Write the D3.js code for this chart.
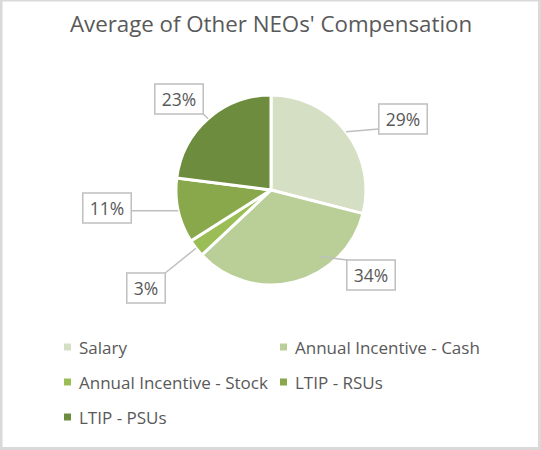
<!DOCTYPE html>
<html>
<head>
<meta charset="utf-8">
<script src="https://cdn.jsdelivr.net/npm/d3@7"></script>
<style>
  body { margin: 0; background: #fff; }
  text { font-family: "Open Sans", sans-serif; fill: #595959; }
</style>
</head>
<body>
<div id="chart"></div>
<script>
const width = 541;
const height = 450;

// chart data
const categories = ["Salary", "Annual Incentive - Cash", "Annual Incentive - Stock", "LTIP - RSUs", "LTIP - PSUs"];
const shares = [29, 34, 3, 11, 23];
const colors = ["#d4dfc3", "#b9cf97", "#9bbd56", "#88a84b", "#6d8c3d"];

// where Excel dropped each data label, relative to the pie centre
const labelLayout = [
    { dx: 132, dy: -71, lead: 0.5, lr: 1.0 },
    { dx: 100, dy: 85, lead: 0.32, lr: 0.87 },
    { dx: -125, dy: 98, lead: 0.5, lr: 1.0 },
    { dx: -164, dy: 18, lead: 0.5, lr: 1.0 },
    { dx: -92, dy: -91, lead: 0.5, lr: 1.0 }
];

const cx = 271, cy = 190, radius = 95;

var svg = d3.select("#chart")
    .append("svg")
    .attr("width", width)
    .attr("height", height);

// frame
svg.append("rect")
    .attr("x", 0).attr("y", 0)
    .attr("width", width).attr("height", height)
    .attr("fill", "#d9d9d9");
svg.append("rect")
    .attr("x", 2.5).attr("y", 1.5)
    .attr("width", 535.5).attr("height", 445.5)
    .attr("fill", "#fff");

svg.append("text")
    .attr("x", 271)
    .attr("y", 32)
    .attr("text-anchor", "middle")
    .style("font-size", "22.3px")
    .text("Average of Other NEOs' Compensation");

let data = categories.map(function (c, i) {
    return { name: c, value: shares[i], color: colors[i], layout: labelLayout[i] };
});

let pie = d3.pie()
    .value(function (d) { return d.value; })
    .sort(null);

let arc = d3.arc()
    .innerRadius(0)
    .outerRadius(radius);

let arcs = pie(data);

let g = svg.append("g")
    .attr("transform", "translate(" + cx + "," + cy + ")");

g.selectAll("path")
    .data(arcs)
    .enter()
    .append("path")
    .attr("d", arc)
    .attr("fill", function (d) { return d.data.color; })
    .attr("stroke", "#fff")
    .attr("stroke-width", 3)
    .attr("stroke-linejoin", "round");

// data labels with leader lines
let labels = g.selectAll("g.label")
    .data(arcs)
    .enter()
    .append("g")
    .attr("class", "label");

labels.each(function (d) {
    let sel = d3.select(this);
    let L = d.data.layout;
    let txt = sel.append("text")
        .attr("x", L.dx)
        .attr("y", L.dy)
        .attr("text-anchor", "middle")
        .attr("dominant-baseline", "central")
        .style("font-size", "17.5px")
        .text(d.value + "%");
    let tw = txt.node().getComputedTextLength();
    let bw = tw + 14, bh = 30;
    let x0 = L.dx - bw / 2, y0 = L.dy - bh / 2;

    // point on the slice the leader goes to
    let a = d.startAngle + (d.endAngle - d.startAngle) * L.lead;
    let px = Math.sin(a) * radius * L.lr;
    let py = -Math.cos(a) * radius * L.lr;
    // nearest point on the box, kept a little away from the corners
    let inset = 5;
    let bx = Math.max(x0 + inset, Math.min(x0 + bw - inset, px));
    let by = Math.max(y0 + inset, Math.min(y0 + bh - inset, py));
    if (px < x0) bx = x0; else if (px > x0 + bw) bx = x0 + bw;
    if (py < y0) by = y0; else if (py > y0 + bh) by = y0 + bh;

    sel.insert("line", "text")
        .attr("x1", px).attr("y1", py)
        .attr("x2", bx).attr("y2", by)
        .attr("stroke", "#bfbfbf")
        .attr("stroke-width", 1.5);
    sel.insert("rect", "text")
        .attr("x", x0).attr("y", y0)
        .attr("width", bw).attr("height", bh)
        .attr("fill", "#fff")
        .attr("stroke", "#bfbfbf")
        .attr("stroke-width", 1.5);
});

// legend, two columns
let legend = svg.append("g");
let item = legend.selectAll("g")
    .data(data)
    .enter()
    .append("g")
    .attr("transform", function (d, i) {
        let col = i % 2, row = Math.floor(i / 2);
        return "translate(" + (col === 0 ? 64 : 280) + "," + (347 + row * 35) + ")";
    });

item.append("rect")
    .attr("x", 0).attr("y", -3.5)
    .attr("width", 7).attr("height", 7)
    .attr("fill", function (d) { return d.color; });

item.append("text")
    .attr("x", 15)
    .attr("y", 0)
    .attr("dominant-baseline", "central")
    .style("font-size", "17px")
    .text(function (d) { return d.name; });
</script>
</body>
</html>
